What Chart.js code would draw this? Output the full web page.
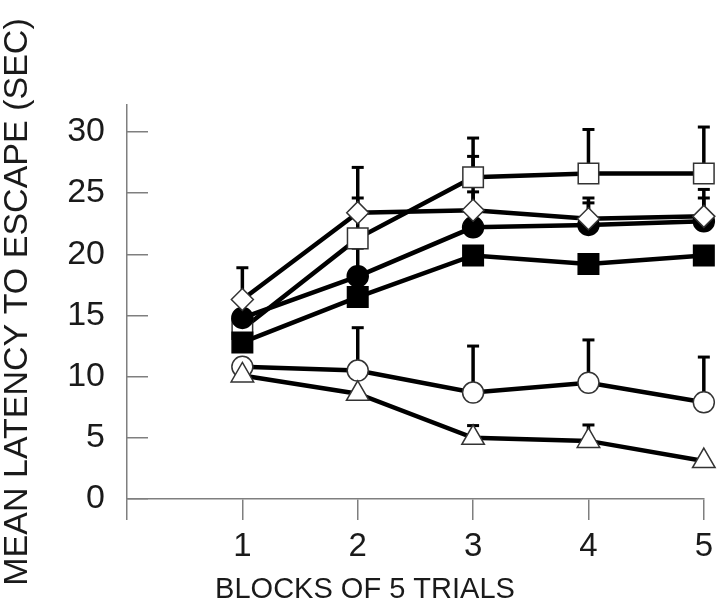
<!DOCTYPE html>
<html>
<head>
<meta charset="utf-8">
<script src="https://cdn.jsdelivr.net/npm/chart.js@4.4.1/dist/chart.umd.min.js"></script>
<style>
  html, body { margin: 0; padding: 0; background: #fff; }
  #wrap { width: 720px; height: 601px; position: relative; }
</style>
</head>
<body>
<div id="wrap"><canvas id="latencyChart"></canvas></div>
<script>
// blocks of 5 trials
const blocks = [1, 2, 3, 4, 5];
const yTicksMax = 30;

// group means (sec) and top of the error bar
const openDiamond = [16.3, 23.4, 23.6, 22.9, 23.1];
const openDiamondErr = [18.9, 24.6, 25.1, 24.6, 25.3];
const openSquare = [13.9, 21.3, 26.3, 26.6, 26.6];
const openSquareErr = [null, 27.1, 29.5, 30.2, 30.4];
const filledCircle = [14.8, 18.2, 22.2, 22.4, 22.7];
const filledCircleErr = [16.5, 20.5, 28.0, 24.2, 24.6];
const filledSquare = [12.8, 16.5, 19.9, 19.2, 19.9];
const filledSquareErr = [null, null, null, null, null];
const openCircle = [10.8, 10.5, 8.7, 9.5, 7.9];
const openCircleErr = [null, 14.0, 12.5, 13.0, 11.6];
const openTriangle = [10.1, 8.6, 5.0, 4.75, 3.1];
const openTriangleErr = [null, null, 6.0, 6.05, null];

const FONT = "'Liberation Sans', Arial, sans-serif";
const AXIS_GREY = '#7f7f7f';

function pts(vals) {
    return blocks.map((b, i) => ({ x: b, y: vals[i] }));
}

function series(vals, err, style, radius, filled) {
    return {
        data: pts(vals),
        errTop: err,
        borderColor: '#000',
        borderWidth: 4.5,
        tension: 0,
        clip: false,
        pointStyle: style,
        pointRadius: radius,
        pointBackgroundColor: filled ? '#000' : '#fff',
        pointBorderColor: filled ? '#000' : '#333',
        pointBorderWidth: 1.5
    };
}

// upper-only error bars with a cap, drawn under the markers
const errorBars = {
    id: 'errorBars',
    beforeDatasetsDraw(chart) {
        const ctx = chart.ctx;
        const xs = chart.scales.x;
        const ys = chart.scales.y;
        ctx.save();
        ctx.strokeStyle = '#000';
        chart.data.datasets.forEach(ds => {
            (ds.errTop || []).forEach((top, i) => {
                if (top == null) return;
                const x = xs.getPixelForValue(ds.data[i].x);
                const y0 = ys.getPixelForValue(ds.data[i].y);
                const y1 = ys.getPixelForValue(top);
                ctx.lineWidth = 3.5;
                ctx.beginPath();
                ctx.moveTo(x, y0);
                ctx.lineTo(x, y1);
                ctx.stroke();
                ctx.lineWidth = 3;
                ctx.beginPath();
                ctx.moveTo(x - 6, y1);
                ctx.lineTo(x + 6, y1);
                ctx.stroke();
            });
        });
        ctx.restore();
    }
};

document.addEventListener('DOMContentLoaded', function() {
    const ctx = document.getElementById('latencyChart').getContext('2d');
    new Chart(ctx, {
        type: 'line',
        data: {
            datasets: [
                series(openTriangle, openTriangleErr, 'triangle', 13, false),
                series(openCircle, openCircleErr, 'circle', 10.5, false),
                series(openDiamond, openDiamondErr, 'rectRot', 11, false),
                series(filledCircle, filledCircleErr, 'circle', 10.5, true),
                series(filledSquare, filledSquareErr, 'rect', 14.5, true),
                series(openSquare, openSquareErr, 'rect', 14.5, false)
            ]
        },
        options: {
            responsive: true,
            maintainAspectRatio: false,
            animation: false,
            layout: {
                padding: { top: 105, right: 12, bottom: 0, left: 22 }
            },
            plugins: {
                legend: { display: false },
                tooltip: { enabled: false },
                title: {
                    display: true,
                    position: 'bottom',
                    text: 'BLOCKS OF 5 TRIALS',
                    color: '#1a1a1a',
                    font: { family: FONT, size: 29, weight: 'normal', lineHeight: 1 },
                    padding: { top: 3, bottom: -3 }
                }
            },
            scales: {
                x: {
                    type: 'linear',
                    min: 0,
                    max: 5,
                    border: { color: AXIS_GREY, width: 1.5 },
                    grid: {
                        drawOnChartArea: false,
                        color: AXIS_GREY,
                        lineWidth: 1.5,
                        tickLength: 21
                    },
                    ticks: {
                        stepSize: 1,
                        padding: 7,
                        color: '#1a1a1a',
                        font: { family: FONT, size: 33 },
                        callback: function(value) {
                            return value === 0 ? '' : value;
                        }
                    },
                    afterFit: function(scale) {
                        scale.height = 73;
                    }
                },
                y: {
                    min: 0,
                    max: 32.2,
                    border: { color: AXIS_GREY, width: 1.5 },
                    grid: {
                        drawOnChartArea: false,
                        color: AXIS_GREY,
                        lineWidth: 1.5,
                        tickLength: -21
                    },
                    ticks: {
                        stepSize: 5,
                        includeBounds: false,
                        padding: 43,
                        color: '#1a1a1a',
                        font: { family: FONT, size: 34 },
                        callback: function(value) {
                            return value <= yTicksMax ? value : '';
                        }
                    },
                    title: {
                        display: true,
                        text: 'MEAN LATENCY TO ESCAPE (SEC)',
                        color: '#1a1a1a',
                        font: { family: FONT, size: 34, lineHeight: 1 },
                        padding: { top: -21, bottom: 0 }
                    },
                    afterFit: function(scale) {
                        scale.width = 105;
                    }
                }
            }
        },
        plugins: [errorBars]
    });
});
</script>
</body>
</html>
